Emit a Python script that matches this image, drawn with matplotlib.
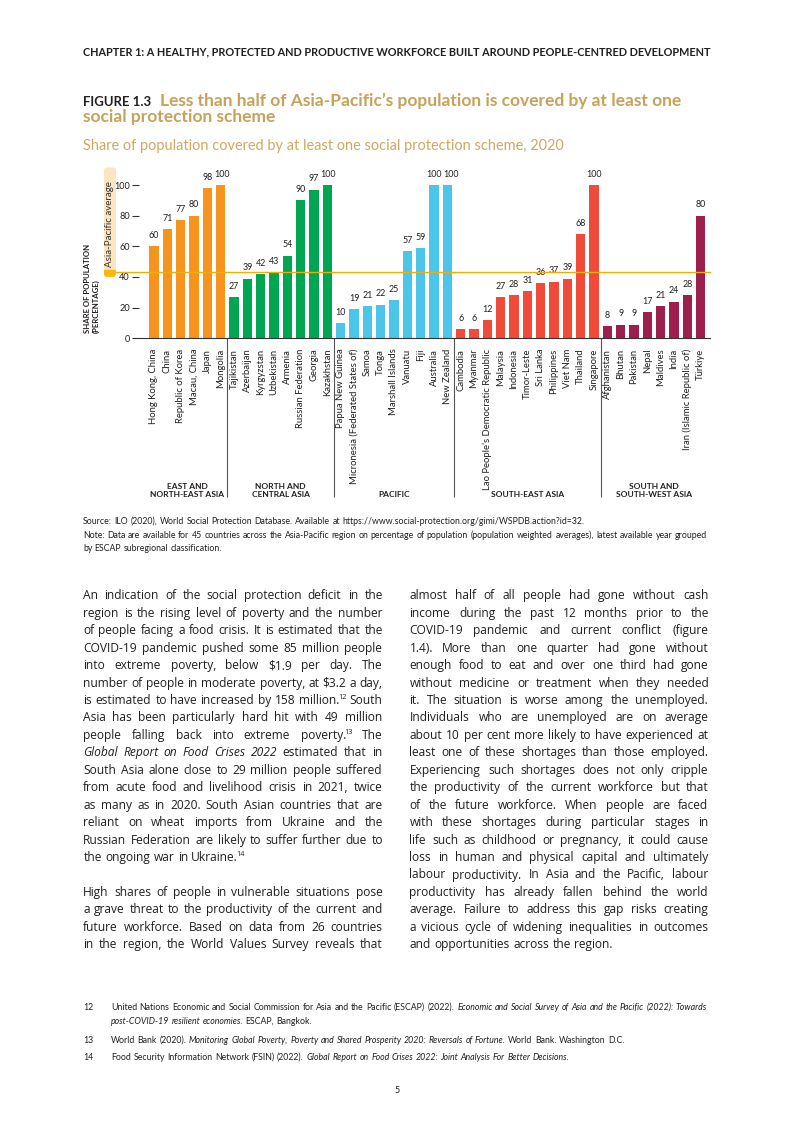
"""Figure 1.3 page: social protection coverage bars plus the surrounding page text."""

import matplotlib

matplotlib.use("Agg")
import matplotlib.pyplot as plt
import numpy as np
from matplotlib.patches import FancyBboxPatch, Rectangle
from matplotlib.transforms import IdentityTransform

plt.rcParams["font.family"] = ["Lato", "DejaVu Sans"]
BODY_FONT = ["Open Sans", "DejaVu Sans"]

# ---- chart data (share of population covered, %) ----
east = ["Hong Kong, China", "China", "Republic of Korea", "Macau, China", "Japan", "Mongolia"]
east_vals = [60, 71, 77, 80, 98, 100]
north = ["Tajikistan", "Azerbaijan", "Kyrgyzstan", "Uzbekistan", "Armenia",
         "Russian Federation", "Georgia", "Kazakhstan"]
north_vals = [27, 39, 42, 43, 54, 90, 97, 100]
pacific = ["Papua New Guinea", "Micronesia (Federated States of)", "Samoa", "Tonga",
           "Marshall Islands", "Vanuatu", "Fiji", "Australia", "New Zealand"]
pacific_vals = [10, 19, 21, 22, 25, 57, 59, 100, 100]
southeast = ["Cambodia", "Myanmar", "Lao People’s Democratic Republic", "Malaysia",
             "Indonesia", "Timor-Leste", "Sri Lanka", "Philippines", "Viet Nam",
             "Thailand", "Singapore"]
southeast_vals = [6, 6, 12, 27, 28, 31, 36, 37, 39, 68, 100]
south = ["Afghanistan", "Bhutan", "Pakistan", "Nepal", "Maldives", "India",
         "Iran (Islamic Republic of)", "Türkiye"]
south_vals = [8, 9, 9, 17, 21, 24, 28, 80]
group_names = ["EAST AND\nNORTH-EAST ASIA", "NORTH AND\nCENTRAL ASIA", "PACIFIC",
               "SOUTH-EAST ASIA", "SOUTH AND\nSOUTH-WEST ASIA"]
group_colors = ["#F7941D", "#00A651", "#4CC5EA", "#EF4A3A", "#9D1F4D"]
asia_pacific_avg = 43

# ---- page text ----
header = ("CHAPTER 1: A HEALTHY, PROTECTED AND PRODUCTIVE WORKFORCE BUILT AROUND "
          "PEOPLE-CENTRED DEVELOPMENT")
title_1 = "Less than half of Asia-Pacific’s population is covered by at least one"
title_2 = "social protection scheme"
subtitle = "Share of population covered by at least one social protection scheme, 2020"
source_lines = [
    "Source: ILO (2020), World Social Protection Database. Available at "
    "https://www.social-protection.org/gimi/WSPDB.action?id=32.",
    "Note: Data are available for 45 countries across the Asia-Pacific region on percentage "
    "of population (population weighted averages), latest available year grouped",
    "by ESCAP subregional classification.",
]

# "_" = italic word, "^" = superscript tail
body_left = [
    ([
        "An indication of the social protection deficit in the",
        "region is the rising level of poverty and the number",
        "of people facing a food crisis. It is estimated that the",
        "COVID-19 pandemic pushed some 85 million people",
        "into extreme poverty, below $1.9 per day. The",
        "number of people in moderate poverty, at $3.2 a day,",
        "is estimated to have increased by 158 million.^12 South",
        "Asia has been particularly hard hit with 49 million",
        "people falling back into extreme poverty.^13 The",
        "_Global _Report _on _Food _Crises _2022 estimated that in",
        "South Asia alone close to 29 million people suffered",
        "from acute food and livelihood crisis in 2021, twice",
        "as many as in 2020. South Asian countries that are",
        "reliant on wheat imports from Ukraine and the",
        "Russian Federation are likely to suffer further due to",
        "the ongoing war in Ukraine.^14",
    ], True),
    ([
        "High shares of people in vulnerable situations pose",
        "a grave threat to the productivity of the current and",
        "future workforce. Based on data from 26 countries",
        "in the region, the World Values Survey reveals that",
    ], False),
]
body_right = [
    ([
        "almost half of all people had gone without cash",
        "income during the past 12 months prior to the",
        "COVID-19 pandemic and current conflict (figure",
        "1.4). More than one quarter had gone without",
        "enough food to eat and over one third had gone",
        "without medicine or treatment when they needed",
        "it. The situation is worse among the unemployed.",
        "Individuals who are unemployed are on average",
        "about 10 per cent more likely to have experienced at",
        "least one of these shortages than those employed.",
        "Experiencing such shortages does not only cripple",
        "the productivity of the current workforce but that",
        "of the future workforce. When people are faced",
        "with these shortages during particular stages in",
        "life such as childhood or pregnancy, it could cause",
        "loss in human and physical capital and ultimately",
        "labour productivity. In Asia and the Pacific, labour",
        "productivity has already fallen behind the world",
        "average. Failure to address this gap risks creating",
        "a vicious cycle of widening inequalities in outcomes",
        "and opportunities across the region.",
    ], True),
]

footnotes = [
    ("12", ["United Nations Economic and Social Commission for Asia and the Pacific (ESCAP) (2022). "
            "_Economic _and _Social _Survey _of _Asia _and _the _Pacific _(2022): _Towards",
            "_post-COVID-19 _resilient _economies. ESCAP, Bangkok."]),
    ("13", ["World Bank (2020). _Monitoring _Global _Poverty, _Poverty _and _Shared "
            "_Prosperity _2020: _Reversals _of _Fortune. World Bank. Washington D.C."]),
    ("14", ["Food Security Information Network (FSIN) (2022). _Global _Report _on _Food "
            "_Crises _2022: _Joint _Analysis _For _Better _Decisions."]),
]

TXT = "#231F20"
GOLD = "#C8A15A"

W, H = 793, 1122
fig = plt.figure(figsize=(W / 100, H / 100), dpi=100)
renderer = fig.canvas.get_renderer()


def fx(x):
    return x / W


def fy(y):
    return 1 - y / H


_widths = {}


def measure(s, style="normal", family=None):
    """Width in px of ``s`` at 10 pt."""
    key = (s, style, tuple(family or ()))
    if key not in _widths:
        kw = {"family": family} if family else {}
        t = fig.text(0, 0, s, fontsize=10, style=style, **kw)
        _widths[key] = t.get_window_extent(renderer).width
        t.remove()
    return _widths[key]


SUP_PULL = 0.28  # how far (in pt-size units) a superscript tucks into its word


def parse(tok):
    italic = tok.startswith("_")
    main, _, sup = tok.lstrip("_").partition("^")
    return main, sup, "italic" if italic else "normal"


def word_w(tok, size, family=None):
    main, sup, style = parse(tok)
    w = measure(main, style, family) * size / 10
    if sup:
        w += 0.6 * measure(sup, "normal", family) * size / 10 - SUP_PULL * size
    return w


def space_w(size, family=None):
    return (measure("n n", "normal", family) - measure("nn", "normal", family)) * size / 10


def natural_w(line, size, family=None):
    toks = line.split()
    return (sum(word_w(t, size, family) for t in toks)
            + (len(toks) - 1) * space_w(size, family))


def draw_line(x0, y, line, size, width=None, color=TXT, family=None):
    toks = line.split()
    ws = [word_w(t, size, family) for t in toks]
    gap = space_w(size, family)
    if width is not None and len(toks) > 1:
        gap = (width - sum(ws)) / (len(toks) - 1)
    kw = {"family": family} if family else {}
    x = x0
    for tok, w in zip(toks, ws):
        main, sup, style = parse(tok)
        fig.text(fx(x), fy(y), main, fontsize=size, style=style, color=color,
                 ha="left", va="baseline", **kw)
        if sup:
            xs = x + measure(main, style, family) * size / 10 - SUP_PULL * size
            fig.text(fx(xs), fy(y - size * 0.42 * 100 / 72), sup, fontsize=size * 0.6,
                     color=color, ha="left", va="baseline", **kw)
        x += w + gap


def fit_text(x, y, s, width, **kw):
    t = fig.text(fx(x), fy(y), s, fontsize=10, va="baseline", **kw)
    w = t.get_window_extent(renderer).width
    t.set_fontsize(10 * width / w)
    return t


# ---- header and titles ----
fit_text(83, 55, header, 627, weight="bold", color=TXT)
fit_text(83, 106, "FIGURE 1.3", 68, weight="bold", color=TXT)
t1 = fit_text(160, 106, title_1, 523, weight="bold", color=GOLD)
fig.text(fx(83), fy(122), title_2, fontsize=t1.get_fontsize(), weight="bold",
         color=GOLD, va="baseline")
fit_text(83, 150, subtitle, 480, color="#CDA862")

# ---- chart ----
names = east + north + pacific + southeast + south
vals = east_vals + north_vals + pacific_vals + southeast_vals + south_vals
sizes = [len(east), len(north), len(pacific), len(southeast), len(south)]
bar_colors = np.repeat(group_colors, sizes)
x = np.arange(len(names))

ax = fig.add_axes([fx(139), fy(338.3), (710 - 139) / W, 168.6 / H])
ax.bar(x, vals, width=0.68, color=bar_colors, zorder=2)
ax.set_xlim(-1.125, len(names) - 0.3)
ax.set_ylim(0, 110)

# value labels; nudge a label right when it would touch its left neighbour
VAL_SIZE = 6.4
unit_px = ax.transData.transform((1, 0))[0] - ax.transData.transform((0, 0))[0]
lab_w = [measure(f"{v}") * VAL_SIZE / 10 for v in vals]
shift = np.zeros(len(vals))
for i in range(1, len(vals)):
    if abs(vals[i] - vals[i - 1]) < 6:
        need = (lab_w[i - 1] + lab_w[i]) / 2 + 1.5
        avail = unit_px - shift[i - 1]
        if avail < need:
            shift[i] = need - avail
for xi, v, sh in zip(x, vals, shift):
    ax.annotate(f"{v}", (xi, v), xytext=(sh * 0.72, 4.5), textcoords="offset points",
                ha="center", va="bottom", fontsize=VAL_SIZE, color=TXT)

ax.set_yticks(range(0, 101, 20))
ax.set_xticks(x, names, rotation=90)
ax.tick_params(axis="y", length=5, width=0.8, color="#333333", labelsize=6.6,
               pad=1.5, labelcolor=TXT)
ax.tick_params(axis="x", length=0, pad=7.5, labelsize=6.8, labelcolor=TXT)
for s in ("top", "right", "left"):
    ax.spines[s].set_visible(False)
ax.spines["bottom"].set_color("#333333")
ax.spines["bottom"].set_linewidth(0.8)

# average line reaches out to the badge on the left
ax.plot([-0.06, 1.0], [asia_pacific_avg] * 2, transform=ax.get_yaxis_transform(),
        color="#F2AE00", lw=1.0, clip_on=False, zorder=3)

# group separators and names below the tick labels
starts = np.concatenate([[0], np.cumsum(sizes)[:-1]])
ax.vlines(starts[1:] - 0.5, -0.94, 0, transform=ax.get_xaxis_transform(),
          colors="#555555", lw=0.8, clip_on=False)
for st, n, name in zip(starts, sizes, group_names):
    ax.text(st + (n - 1) / 2, -0.948, name, transform=ax.get_xaxis_transform(),
            ha="center", va="bottom", fontsize=6.0, weight="bold", color=TXT,
            linespacing=1.15)

# "Asia-Pacific average" badge, pinned to the average line
y_avg = ax.transData.transform((0, asia_pacific_avg))[1]
fig.add_artist(FancyBboxPatch((104, y_avg - 4.5), 12, 109.5,
                              boxstyle="round,pad=0,rounding_size=3",
                              transform=IdentityTransform(), fc="#FDE5C4", ec="none"))
fig.add_artist(FancyBboxPatch((104, y_avg - 4.5), 12, 7.2,
                              boxstyle="round,pad=0,rounding_size=3",
                              transform=IdentityTransform(), fc="#F8B80F", ec="none"))
fig.add_artist(Rectangle((104, y_avg - 0.5), 12, 3.2, transform=IdentityTransform(),
                         fc="#F8B80F", ec="none"))
fig.text(110, y_avg + 48, "Asia-Pacific average", transform=IdentityTransform(),
         rotation=90, ha="center", va="center", fontsize=7, color="#333333")

ylab = fig.text(fx(92), fy(288), "SHARE OF POPULATION\n(PERCENTAGE)", rotation=90,
                ha="center", va="center", multialignment="left", weight="bold",
                fontsize=10, color=TXT, linespacing=1.15)
ylab.set_fontsize(10 * 90 / ylab.get_window_extent(renderer).height)

# ---- source / note ----
src_size = 10 * 624 / natural_w(source_lines[1], 10)
for i, line in enumerate(source_lines):
    draw_line(83, 524 + i * 13.5, line, src_size)

# ---- body text, two justified columns ----
COL_W = 299.5
LEAD = 17.45
just = [ln for col in (body_left, body_right) for para, ends in col
        for ln in (para[:-1] if ends else para)]
body_size = min(9.2, 10 * COL_W / max(natural_w(ln, 10, BODY_FONT) for ln in just))


def draw_column(x0, col):
    k = 0
    for para, ends in col:
        for i, ln in enumerate(para):
            last = ends and i == len(para) - 1
            draw_line(x0, 599.3 + k * LEAD, ln, body_size, None if last else COL_W,
                      family=BODY_FONT)
            k += 1
        k += 1


draw_column(83.3, body_left)
draw_column(409.5, body_right)

# ---- footnotes ----
fn_size = 10 * 596 / natural_w(footnotes[0][1][0], 10)
fn_y = [[1010, 1024], [1043], [1060]]
for (num, lines), ys in zip(footnotes, fn_y):
    fig.text(fx(83), fy(ys[0]), num, fontsize=fn_size, color=TXT, va="baseline")
    for ln, y in zip(lines, ys):
        draw_line(111, y, ln, fn_size)

fig.text(fx(397), fy(1093), "5", fontsize=6.5, color=TXT, ha="center", va="baseline")

fig.savefig("out.png", dpi=100)
